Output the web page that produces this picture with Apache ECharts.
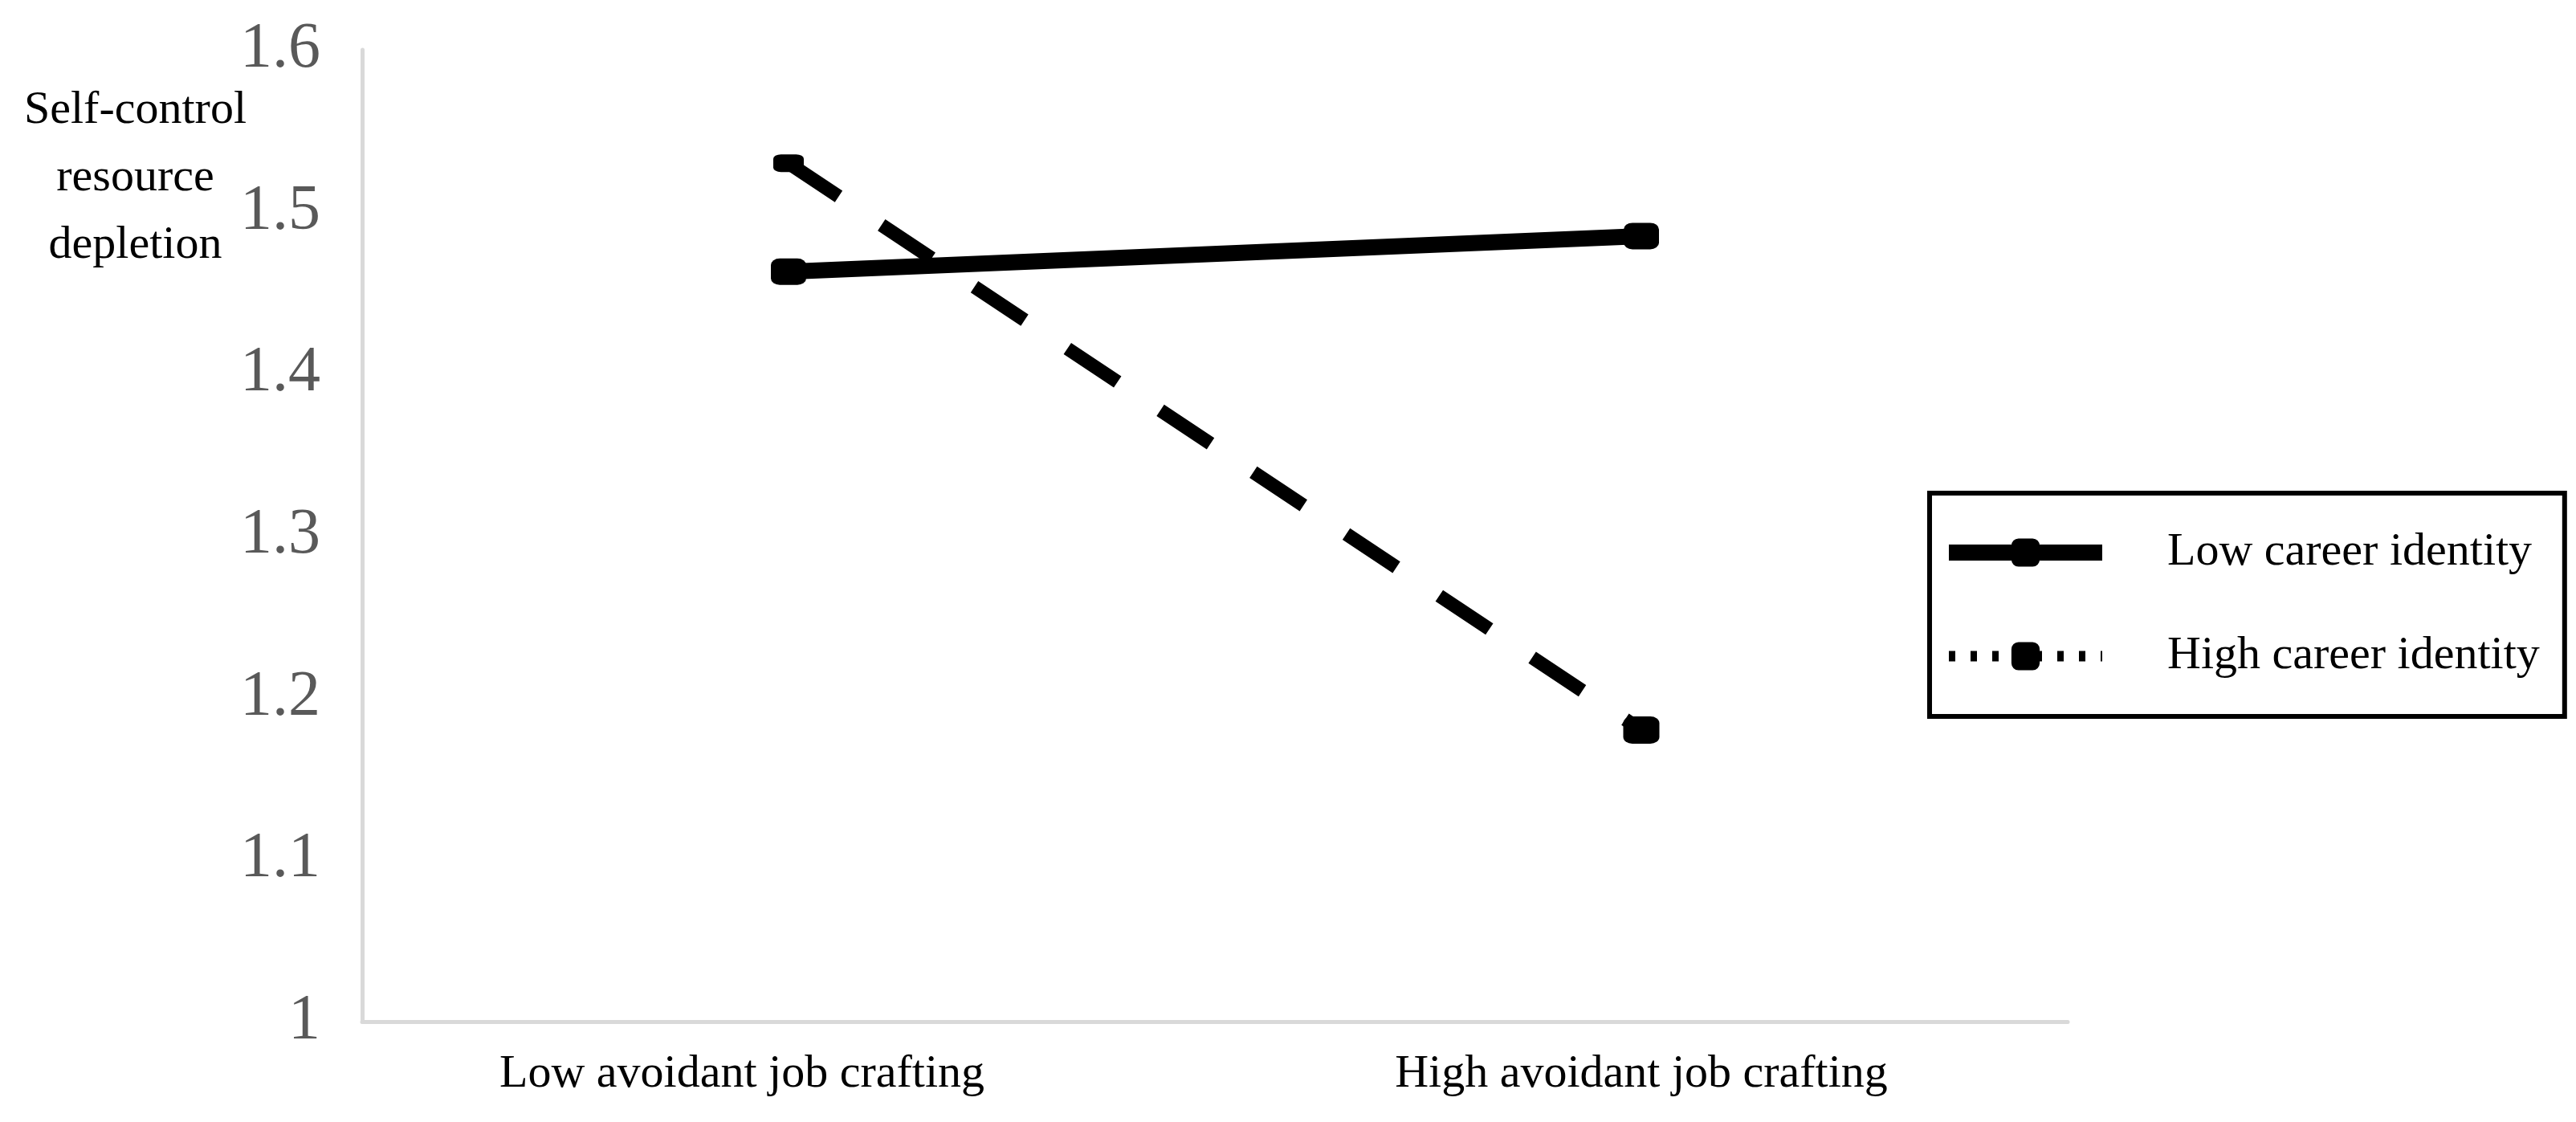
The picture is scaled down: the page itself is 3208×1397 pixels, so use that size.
<!DOCTYPE html>
<html>
<head>
<meta charset="utf-8">
<script src="https://cdn.jsdelivr.net/npm/echarts@6/dist/echarts.min.js"></script>
<style>
html,body{margin:0;padding:0;background:#fff;}
#chart{width:3208px;height:1397px;}
</style>
</head>
<body>
<div id="chart"></div>
<script>
var categories = ['Low avoidant job crafting', 'High avoidant job crafting'];
var seriesNames = ['Low career identity', 'High career identity'];
var lowCareer = [1.463, 1.485];
var highCareer = [1.530, 1.180];
var yTicks = { min: 1, max: 1.6, interval: 0.1 };
var yName = 'Self-control\nresource\ndepletion';

var serif = '"Liberation Serif", "Times New Roman", serif';
var chart = echarts.init(document.getElementById('chart'));
chart.setOption({
  backgroundColor: '#fff',
  animation: false,
  grid: { left: 451, right: 633, top: 62, bottom: 125, containLabel: false },
  xAxis: {
    type: 'category',
    data: categories,
    boundaryGap: true,
    axisLine: { lineStyle: { color: '#d9d9d9', width: 5 } },
    axisTick: { show: false },
    splitLine: { show: false },
    axisLabel: {
      margin: 37,
      color: '#000',
      fontFamily: serif,
      fontSize: 58,
      formatter: function (v, i) { return i === 0 ? '{a|' + v + '}' : '{b|' + v + '}'; },
      rich: {
        a: { fontFamily: serif, fontSize: 58, color: '#000', padding: [0, 116, 0, 0] },
        b: { fontFamily: serif, fontSize: 58, color: '#000' }
      }
    }
  },
  yAxis: {
    type: 'value',
    min: yTicks.min,
    max: yTicks.max,
    interval: yTicks.interval,
    axisLine: { show: true, lineStyle: { color: '#d9d9d9', width: 5 } },
    axisTick: { show: false },
    splitLine: { show: false },
    axisLabel: { margin: 52, color: '#595959', fontFamily: serif, fontSize: 80 }
  },
  legend: {
    orient: 'vertical',
    left: 2403,
    top: 614,
    padding: [45, 31, 46, 14],
    borderColor: '#000',
    borderWidth: 6,
    itemWidth: 191,
    itemHeight: 44,
    itemGap: 71,
    textStyle: { fontFamily: serif, fontSize: 58, color: '#000', lineHeight: 58, padding: [0, 0, 0, 76] },
    data: [
      { name: seriesNames[0], lineStyle: { width: 20, type: 'solid', color: '#000' } },
      { name: seriesNames[1], lineStyle: { width: 13, type: [8, 19], color: '#000' } }
    ]
  },
  graphic: [{
    type: 'text',
    left: 30,
    top: 96,
    style: { text: yName, font: '58px ' + serif, fill: '#000', textAlign: 'center', lineHeight: 84, x: 137 }
  }],
  series: [
    {
      name: seriesNames[1],
      type: 'line',
      data: highCareer.map(function (v, i) { return { value: v, symbolSize: i === 0 ? [38, 22] : [45, 34] }; }),
      symbol: 'roundRect',
      itemStyle: { color: '#000' },
      lineStyle: { color: '#000', width: 17, type: [75, 64] },
      z: 2
    },
    {
      name: seriesNames[0],
      type: 'line',
      data: lowCareer,
      symbol: 'roundRect',
      symbolSize: [44, 33],
      itemStyle: { color: '#000' },
      lineStyle: { color: '#000', width: 20 },
      z: 3
    }
  ]
});
</script>
</body>
</html>
